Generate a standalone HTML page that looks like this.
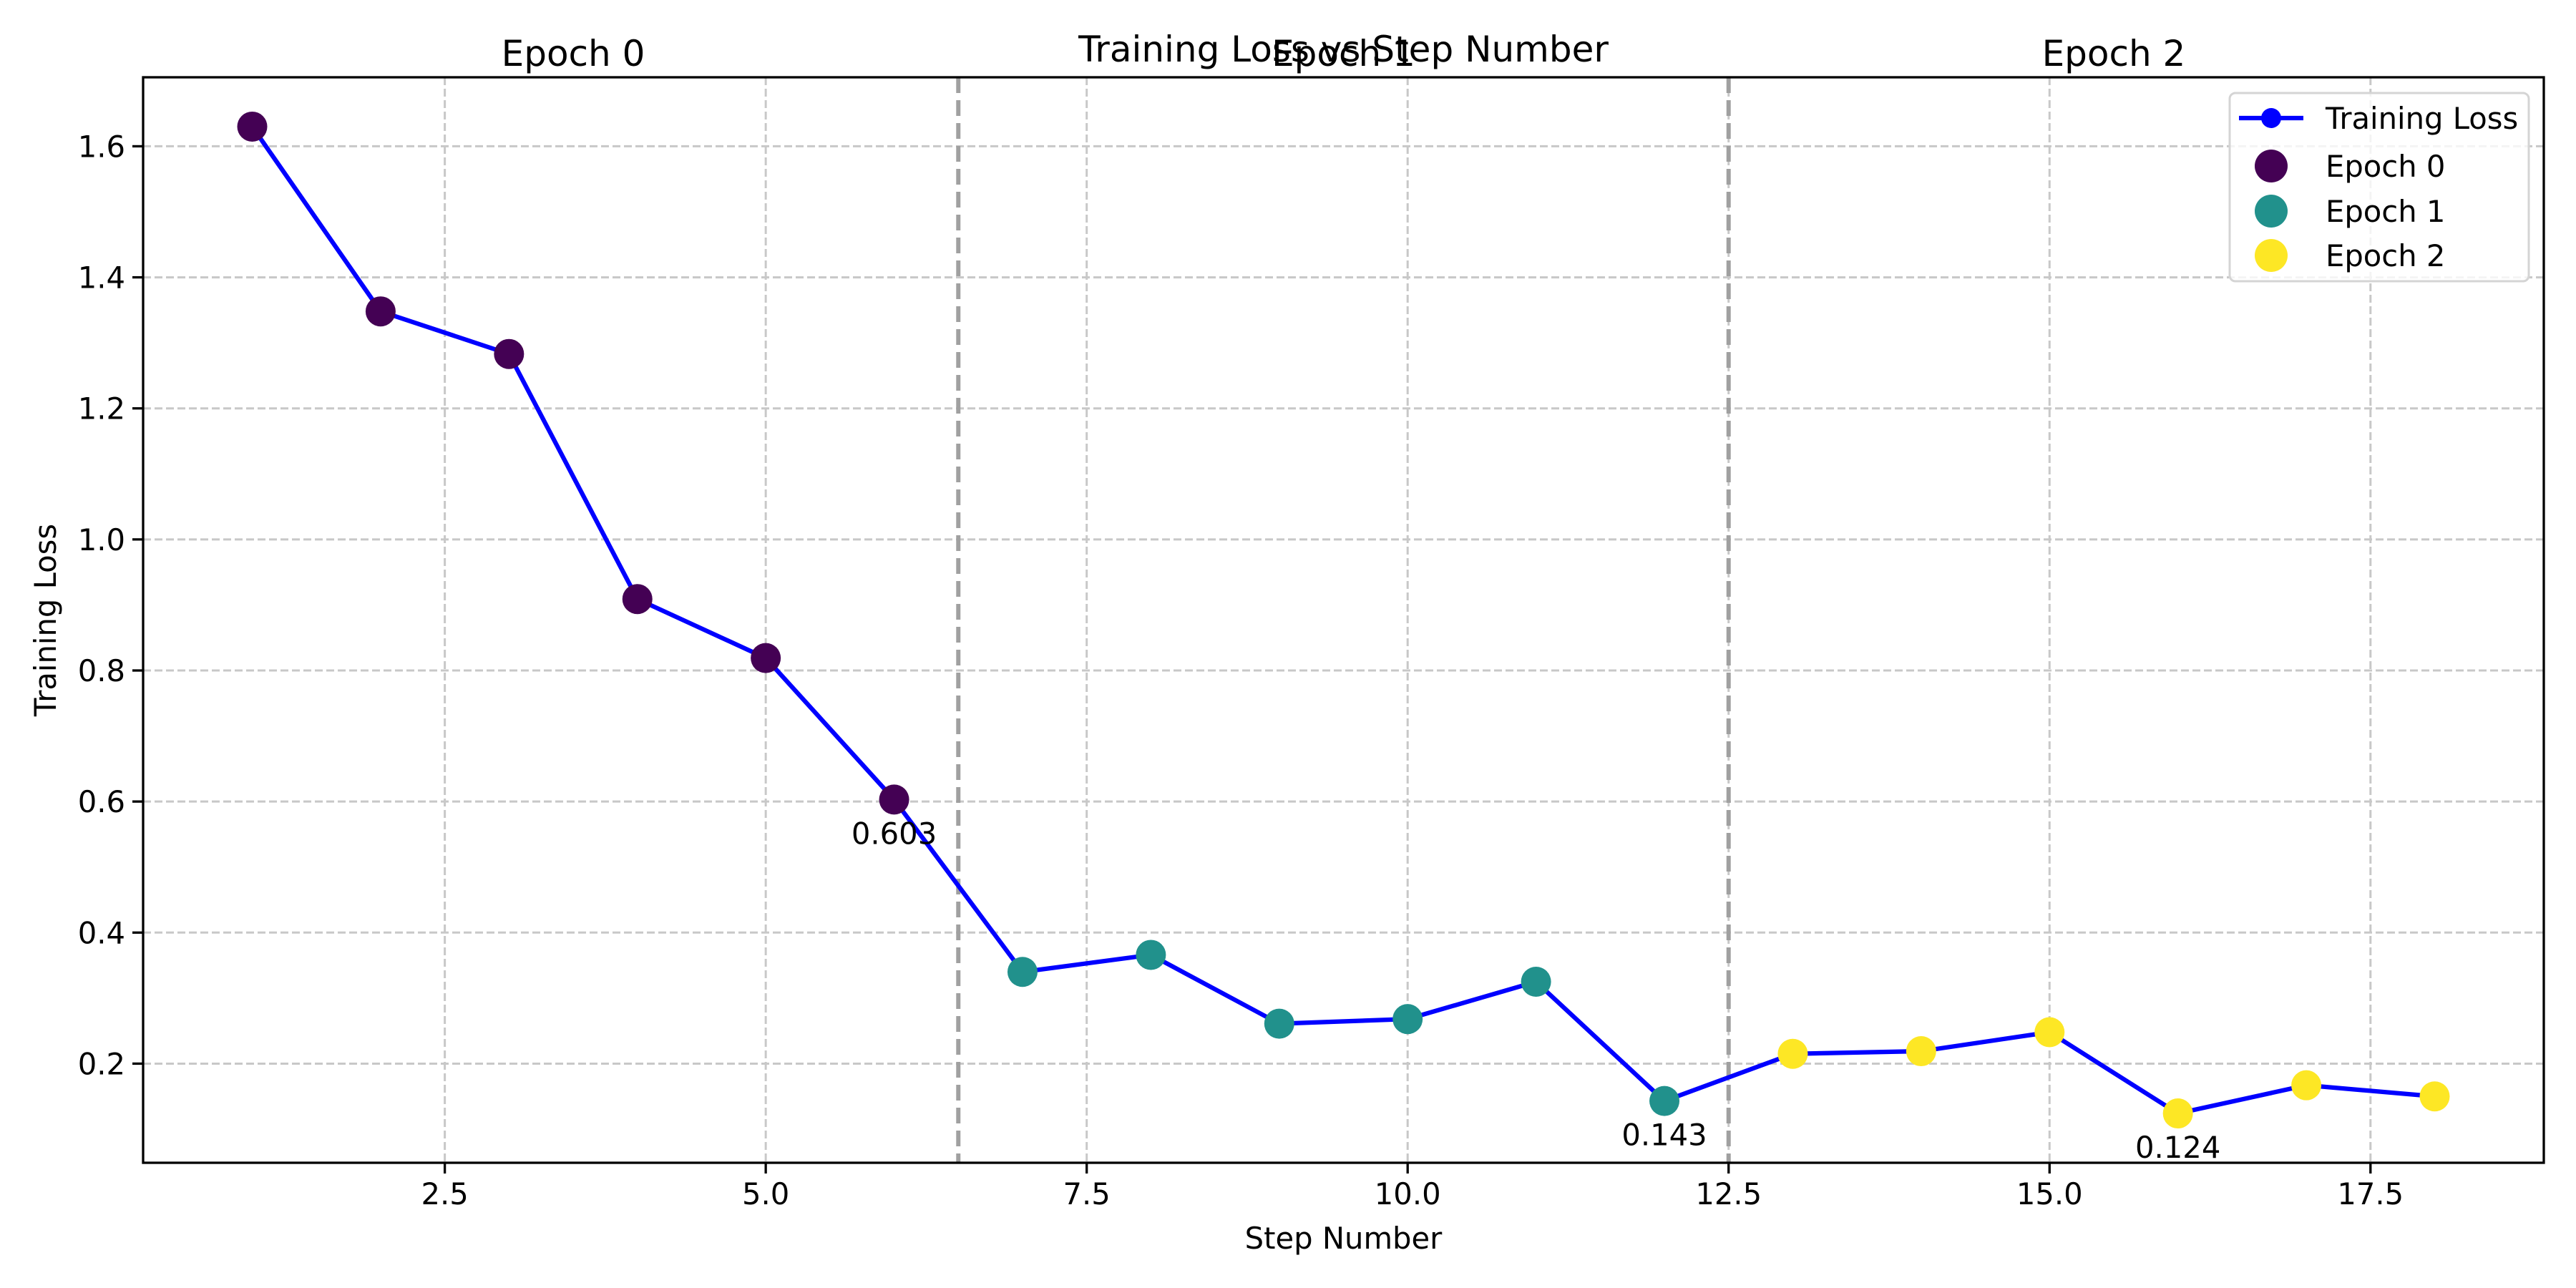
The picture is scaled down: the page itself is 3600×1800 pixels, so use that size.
<!DOCTYPE html>
<html><head><meta charset="utf-8"><style>
html,body{margin:0;padding:0;background:#fff}
svg{display:block;font-family:"DejaVu Sans","Liberation Sans",sans-serif}
</style></head><body>
<svg id="chart" width="3600" height="1800" viewBox="0 0 3600 1800"></svg>
<script>
const steps=[1,2,3,4,5,6,7,8,9,10,11,12,13,14,15,16,17,18];
const losses=[1.63,1.348,1.283,0.909,0.819,0.603,0.340,0.366,0.261,0.268,0.325,0.143,0.215,0.219,0.248,0.124,0.167,0.150];
const epochs=[0,0,0,0,0,0,1,1,1,1,1,1,2,2,2,2,2,2];
const epochNames=["Epoch 0","Epoch 1","Epoch 2"];
const epochColors=["#440154","#21918c","#fde725"];
const epochBoundaries=[6.5,12.5];
const epochCenters=[3.5,9.5,15.5];
const xTicks=[2.5,5.0,7.5,10.0,12.5,15.0,17.5];
const xTickLabels=["2.5","5.0","7.5","10.0","12.5","15.0","17.5"];
const yTicks=[0.2,0.4,0.6,0.8,1.0,1.2,1.4,1.6];
const yTickLabels=["0.2","0.4","0.6","0.8","1.0","1.2","1.4","1.6"];
const annotIdx=[5,11,15];

const L=200,R=3555,T=108,B=1625;
const xmin=0.15,xmax=18.85;
const ymin=Math.min(...losses),ymax=Math.max(...losses),yr=ymax-ymin;
const y0=ymin-0.05*yr,y1=ymax+0.05*yr;
const X=v=>L+(v-xmin)/(xmax-xmin)*(R-L);
const Y=v=>B-(v-y0)/(y1-y0)*(B-T);
const svg=document.getElementById('chart');
const NS="http://www.w3.org/2000/svg";
function mk(tag,attrs,parent){const e=document.createElementNS(NS,tag);for(const k in attrs)e.setAttribute(k,attrs[k]);(parent||svg).appendChild(e);return e;}

xTicks.forEach((t,i)=>{
 const g=mk('line',{x1:X(t),x2:X(t),y1:T,y2:B,stroke:'#c8c8c8','stroke-width':3,'stroke-dasharray':'11,5'});
 
 
 const tk=mk('line',{x1:X(t),x2:X(t),y1:B,y2:B+15,stroke:'#000','stroke-width':3.3});
 
 
 const tx=mk('text',{x:X(t),y:B+58,'font-size':41.7,'text-anchor':'middle',fill:'#000'});
 tx.textContent=xTickLabels[i];
 
 
});
yTicks.forEach((t,i)=>{
 const g=mk('line',{x1:L,x2:R,y1:Y(t),y2:Y(t),stroke:'#c8c8c8','stroke-width':3,'stroke-dasharray':'11,5'});
 
 
 const tk=mk('line',{x1:L-15,x2:L,y1:Y(t),y2:Y(t),stroke:'#000','stroke-width':3.3});
 
 
 const tx=mk('text',{x:L-25,y:Y(t)+15,'font-size':41.7,'text-anchor':'end',fill:'#000'});
 tx.textContent=yTickLabels[i];
 
 
});
epochBoundaries.forEach(b=>{
 const l=mk('line',{x1:X(b),x2:X(b),y1:T,y2:B,stroke:'#a0a0a0','stroke-width':6,'stroke-dasharray':'22,10'});
 
 
});
const pl=mk('polyline',{points:steps.map((s,i)=>X(s)+','+Y(losses[i])).join(' '),fill:'none',stroke:'#0000ff','stroke-width':6.25,'stroke-linejoin':'round'});


steps.forEach((s,i)=>{
 const c=mk('circle',{cx:X(s),cy:Y(losses[i]),r:21,fill:epochColors[epochs[i]]});
 
 
});
annotIdx.forEach(i=>{
 const t=mk('text',{x:X(steps[i]),y:Y(losses[i])+62,'font-size':41.7,'text-anchor':'middle',fill:'#000'});
 t.textContent=losses[i].toFixed(3);
 
 
});
const fr=mk('rect',{x:L,y:T,width:R-L,height:B-T,fill:'none',stroke:'#000','stroke-width':3.3});


epochCenters.forEach((c,i)=>{
 const t=mk('text',{x:X(c),y:T-16,'font-size':50,'text-anchor':'middle',fill:'#000'});
 t.textContent=epochNames[i];
 
 
});
const title=mk('text',{x:(L+R)/2,y:T-22,'font-size':50,'text-anchor':'middle',fill:'#000'});
title.textContent='Training Loss vs Step Number';


const xl=mk('text',{x:(L+R)/2,y:1745,'font-size':41.7,'text-anchor':'middle',fill:'#000'});
xl.textContent='Step Number';


const yl=mk('text',{x:78,y:(T+B)/2,'font-size':41.7,'text-anchor':'middle',fill:'#000',transform:`rotate(-90 78 ${(T+B)/2})`});
yl.textContent='Training Loss';


const lg=mk('g',{});


mk('rect',{x:3116,y:130,width:418,height:263,rx:8,fill:'#fff','fill-opacity':0.8,stroke:'#d4d4d4','stroke-width':3},lg);
const ly=[165,232,295,357];
mk('line',{x1:3129,x2:3219,y1:ly[0],y2:ly[0],stroke:'#0000ff','stroke-width':6.25},lg);
mk('circle',{cx:3174,cy:ly[0],r:14,fill:'#0000ff'},lg);
const lt=mk('text',{x:3250,y:ly[0]+15,'font-size':41.7,fill:'#000'},lg);
lt.textContent='Training Loss';


epochNames.forEach((n,i)=>{
 mk('circle',{cx:3174,cy:ly[i+1],r:23,fill:epochColors[i]},lg);
 const t=mk('text',{x:3250,y:ly[i+1]+15,'font-size':41.7,fill:'#000'},lg);
 t.textContent=n;
 
 
});
</script>
</body></html>
